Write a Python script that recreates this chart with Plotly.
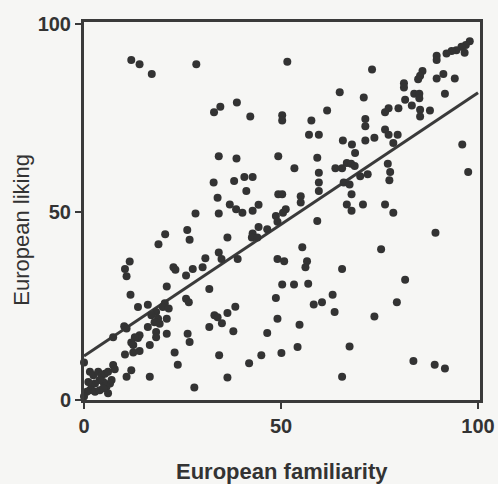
import plotly.graph_objects as go

# European familiarity (x) and European liking (y)
familiarity = [
    12.0, 14.1, 17.2, 28.5, 33.0, 34.6, 51.6, 64.9, 38.8, 42.2, 50.3, 50.3, 57.7, 61.7, 57.1, 59.6, 65.7,
    97.9, 96.9, 95.8, 96.6, 94.5, 93.3, 92.0, 89.5, 89.5, 73.1, 85.9, 85.3, 84.8, 91.2, 89.5, 94.1,
    81.2, 81.2, 91.6, 71.0, 83.8, 85.1, 85.1, 81.5, 83.2, 85.3, 85.3, 87.8, 77.3, 76.4, 79.8, 71.4,
    71.4, 76.4, 77.3, 79.6, 71.4, 73.7, 68.0, 78.5, 96.0,
    34.2, 32.9, 33.9, 34.2, 28.3, 20.6, 18.9, 26.2, 26.8, 11.6, 10.4, 30.8, 22.7, 27.6, 30.1, 34.2, 34.9,
    38.7, 49.3, 59.2, 53.4, 59.6, 59.6, 59.6, 63.8, 65.5, 66.7, 38.1, 40.7, 42.8, 41.2, 37.0, 38.6, 40.2,
    42.8, 44.3, 49.3, 50.3, 55.0, 55.0, 65.9, 66.7, 51.2, 50.5, 48.7, 49.1, 59.2, 44.3, 46.5, 42.8, 42.6,
    44.0, 36.4, 55.4, 39.0, 49.1, 50.8, 56.6, 56.2,
    68.8, 97.5, 77.1, 77.7, 77.5, 67.8, 68.7, 72.0, 70.1, 67.4, 67.9, 67.9, 70.8, 76.4, 78.5, 89.2, 75.4, 65.5,
    10.8, 23.2, 25.9, 21.0, 11.8, 13.7, 16.2, 25.9, 26.6, 20.5, 20.0, 21.5, 18.3, 17.1, 18.8, 17.9, 19.2,
    21.0, 16.2, 18.3, 18.3, 21.0, 10.2, 10.8, 14.1, 13.7, 12.9, 7.4, 12.0, 12.5, 16.7, 10.4, 12.5, 14.1,
    23.0, 23.8, 26.3, 26.8, 31.8, 33.1, 16.7, 12.0, 10.8, 28.0,
    0.0, 1.5, 2.4, 3.6, 4.5, 5.3, 6.1, 7.4, 7.8, 7.0, 6.6, 5.7, 4.9, 4.0, 2.8, 1.9, 1.5, 0.7, 2.8, 4.0, 6.1,
    0.0, 1.1, 4.9,
    31.8, 50.3, 53.3, 56.9, 48.7, 58.3, 60.4, 63.1, 63.6, 38.4, 36.4, 33.9, 35.0, 37.9, 49.1, 54.7, 46.5,
    34.3, 45.0, 41.9, 50.1, 54.2, 36.4, 65.5, 67.4,
    81.5, 79.4, 73.7, 83.6, 89.0, 91.6,
]
liking = [
    90.4, 89.3, 86.7, 89.3, 76.5, 78.0, 89.9, 81.8, 79.1, 75.4, 75.7, 74.3, 74.3, 77.0, 70.5, 70.5, 69.0,
    95.4, 94.4, 93.9, 92.3, 93.0, 92.8, 92.1, 91.5, 90.4, 87.9, 87.5, 86.2, 85.3, 86.7, 85.5, 85.5,
    84.2, 83.1, 81.4, 80.4, 81.4, 81.4, 80.2, 79.8, 78.3, 77.2, 75.4, 77.0, 77.6, 76.5, 77.6, 74.7,
    72.8, 71.9, 70.5, 70.5, 69.0, 69.7, 67.9, 68.3, 67.9,
    64.8, 57.8, 53.8, 49.6, 49.6, 44.1, 41.4, 45.2, 42.6, 36.8, 34.8, 37.7, 35.3, 34.8, 35.3, 39.2, 37.5,
    64.2, 64.8, 64.4, 61.6, 60.4, 57.8, 55.6, 61.6, 61.6, 63.0, 58.2, 59.3, 59.3, 55.6, 52.0, 50.7, 49.8,
    50.3, 51.9, 54.7, 54.7, 54.2, 52.5, 57.8, 52.0, 50.7, 49.8, 48.9, 47.4, 47.6, 46.0, 45.4, 44.3, 43.2,
    43.2, 43.2, 40.6, 37.5, 37.5, 36.9, 36.9, 35.3,
    65.7, 60.6, 62.8, 60.6, 58.4, 62.8, 62.2, 60.0, 59.5, 57.3, 54.7, 50.3, 52.0, 52.0, 49.8, 44.5, 40.1, 34.8,
    32.9, 34.6, 33.1, 30.2, 28.0, 24.7, 25.3, 26.9, 26.0, 25.7, 24.7, 24.3, 23.4, 22.5, 21.6, 20.7, 20.3,
    21.6, 19.4, 18.1, 16.7, 17.6, 19.6, 19.0, 17.2, 16.5, 16.7, 16.7, 15.3, 14.6, 14.6, 12.1, 12.6, 13.0,
    12.6, 9.4, 17.6, 15.4, 19.4, 22.5, 6.2, 7.9, 6.2, 3.3,
    10.0, 7.5, 6.6, 7.5, 6.6, 7.0, 7.5, 9.3, 8.2, 5.3, 4.4, 3.5, 4.8, 5.3, 4.4, 4.0, 2.6, 2.2, 2.2, 2.6, 1.8,
    0.9, 4.8, 3.1,
    29.5, 30.7, 30.7, 30.9, 27.1, 25.4, 26.0, 28.0, 23.4, 24.8, 23.1, 22.0, 20.4, 18.3, 21.6, 20.0, 17.8,
    11.9, 11.9, 9.8, 12.5, 14.1, 6.0, 6.2, 14.2,
    32.0, 26.0, 22.2, 10.4, 9.4, 8.4,
]

# Fitted regression line
fit_intercept = 11.7
fit_slope = 0.70
fit_x = [0, 100]
fit_y = [fit_intercept + fit_slope * v for v in fit_x]

tick_vals = [0, 50, 100]
tick_text = ["0", "50", "100"]

x_title = "European familiarity"
y_title = "European liking"

ink = "#3a3a3a"
text_col = "#333333"
paper = "#f6f6f4"
font_family = "Liberation Sans, Arial, Helvetica, sans-serif"

fig = go.Figure()
fig.add_trace(go.Scatter(
    x=fit_x, y=fit_y, mode="lines",
    line=dict(color=ink, width=3), hoverinfo="skip", cliponaxis=False,
))
fig.add_trace(go.Scatter(
    x=familiarity, y=liking, mode="markers",
    marker=dict(color="#333333", size=8, line=dict(width=0)),
    cliponaxis=False,
))

axis_common = dict(
    range=[0, 100.5], tickvals=tick_vals, ticktext=tick_text,
    showgrid=False, zeroline=False, showline=True, linecolor=ink, linewidth=3,
    mirror=True, ticks="outside", ticklen=6, tickwidth=2, tickcolor=ink,
    tickfont=dict(family=font_family, size=20, color=text_col, weight="bold"),
    automargin=False,
)
fig.update_xaxes(**axis_common)
fig.update_yaxes(**axis_common)

fig.add_annotation(
    text="<b>" + x_title + "</b>", xref="paper", yref="paper", x=0.5, y=-0.19,
    xanchor="center", yanchor="middle", showarrow=False,
    font=dict(family=font_family, size=22, color=text_col),
)
fig.add_annotation(
    text=y_title, xref="paper", yref="paper", x=-0.157, y=0.45,
    xanchor="center", yanchor="middle", showarrow=False, textangle=-90,
    font=dict(family=font_family, size=22, color=text_col),
)

fig.update_layout(
    width=498, height=484,
    margin=dict(l=84, r=18, t=22, b=84),
    paper_bgcolor=paper, plot_bgcolor=paper,
    showlegend=False,
)

fig.write_html(
    "out.html",
    config={"displayModeBar": False},
    post_script="document.body.style.margin='0';document.body.style.background='" + paper + "';",
)
